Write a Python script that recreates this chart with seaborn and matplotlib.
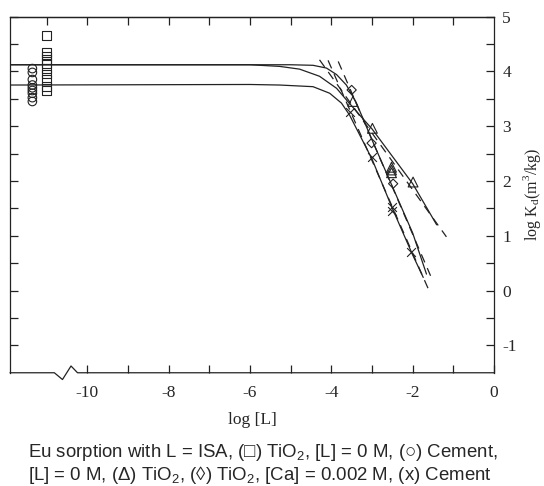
import numpy as np
import pandas as pd
import matplotlib
matplotlib.use("Agg")
import matplotlib.pyplot as plt
import matplotlib.transforms as mtransforms
import seaborn as sns

# ==========================
# data
# ==========================
# (□) TiO2, [L] = 0 M
sq_x = [-11.0] * 10
sq_y = [4.65, 4.35, 4.28, 4.22, 4.15, 4.05, 3.95, 3.85, 3.72, 3.65]
# (○) Cement, [L] = 0 M
ci_x = [-11.35] * 9
ci_y = [4.05, 3.98, 3.85, 3.75, 3.7, 3.65, 3.6, 3.52, 3.45]
# (Δ) TiO2
tri_x = [-3.47, -2.99, -2.52, -2.52, -2.52, -1.99]
tri_y = [3.45, 2.96, 2.25, 2.2, 2.15, 1.98]
# (◊) TiO2, [Ca] = 0.002 M
dia_x = [-3.5, -3.01, -2.48]
dia_y = [3.66, 2.69, 1.95]
# (x) Cement
cr_x = [-3.55, -3.01, -2.52, -2.5, -2.03]
cr_y = [3.25, 2.44, 1.52, 1.45, 0.7]

# model curves (solid)
fit_tri_x = [-11.9, -6.0, -5.27, -4.78, -4.29, -3.87, -3.63, -3.3, -3.0, -2.5, -2.0, -1.41]
fit_tri_y = [4.12, 4.12, 4.09, 4.04, 3.91, 3.69, 3.48, 3.2, 2.95, 2.45, 1.95, 1.2]
fit_dia_x = [-11.9, -5.0, -4.45, -4.12, -3.87, -3.63, -3.4, -3.0, -2.5, -2.0, -1.66]
fit_dia_y = [4.12, 4.12, 4.11, 4.06, 3.94, 3.75, 3.45, 2.75, 1.9, 1.05, 0.3]
fit_cr_x = [-11.9, -6.0, -5.27, -4.45, -4.04, -3.75, -3.55, -3.0, -2.5, -2.0, -1.74]
fit_cr_y = [3.75, 3.76, 3.75, 3.72, 3.6, 3.42, 3.2, 2.4, 1.5, 0.65, 0.24]

# straight dashed lines (end points)
dash_tri_x = [-4.29, -1.17]
dash_tri_y = [4.21, 0.98]
dash_dia_x = [-3.83, -1.56]
dash_dia_y = [4.18, 0.27]
dash_cr_x = [-4.08, -1.58]
dash_cr_y = [4.2, -0.03]

caption = ("Eu sorption with L = ISA, (\u25a1) TiO$_\\mathregular{2}$, [L] = 0 M, (\u25cb) Cement,\n"
           "[L] = 0 M, (\u0394) TiO$_\\mathregular{2}$, (\u25ca) TiO$_\\mathregular{2}$, "
           "[Ca] = 0.002 M, (x) Cement")

# ==========================
# style
# ==========================
sns.set_style("ticks")
plt.rcParams['font.family'] = ['Liberation Serif', 'DejaVu Serif']
plt.rcParams['axes.unicode_minus'] = False

ink = "#222222"
fig = plt.figure(figsize=(5.44, 4.86), dpi=100)
ax = fig.add_axes([0.0184, 0.233, 0.8897, 0.733])

line_kw = dict(color=ink, linewidth=0.9, estimator=None, sort=False, ax=ax, legend=False)
for xs, ys in [(fit_tri_x, fit_tri_y), (fit_dia_x, fit_dia_y), (fit_cr_x, fit_cr_y)]:
    sns.lineplot(x=xs, y=ys, **line_kw)
for xs, ys in [(dash_tri_x, dash_tri_y), (dash_dia_x, dash_dia_y), (dash_cr_x, dash_cr_y)]:
    l = sns.lineplot(x=xs, y=ys, **line_kw).lines[-1]
    l.set_dashes((7, 5))

mk = dict(facecolor="none", edgecolor=ink, linewidth=0.8, ax=ax, legend=False)
sns.scatterplot(x=sq_x, y=sq_y, marker="s", s=40, **mk)
sns.scatterplot(x=ci_x, y=ci_y, marker="o", s=38, **mk)
sns.scatterplot(x=tri_x, y=tri_y, marker="^", s=50, **mk)
sns.scatterplot(x=dia_x, y=dia_y, marker="D", s=22, **mk)
sns.scatterplot(x=cr_x, y=cr_y, marker="x", s=40, color=ink, linewidth=0.8, ax=ax, legend=False)

ax.set_xlim(-11.9, 0)
ax.set_ylim(-1.5, 5)

ax.set_xticks([-10, -8, -6, -4, -2, 0])
ax.set_xticks([-9, -7, -5, -3, -1], minor=True)
ax.set_yticks([-1, 0, 1, 2, 3, 4, 5])
ax.set_yticks([-0.5, 0.5, 1.5, 2.5, 3.5, 4.5], minor=True)
ax.tick_params(which="both", direction="in", length=6, width=0.9, color=ink,
               top=False, bottom=True, left=True, right=True,
               labelleft=False, labelright=True, labelsize=12.5)
ax.tick_params(axis="x", pad=9)
ax.tick_params(axis="y", pad=6)
for sp in ax.spines.values():
    sp.set_color(ink)
    sp.set_linewidth(0.9)

# top axis ticks (one more at -11, left of the break)
top = ax.secondary_xaxis("top")
top.set_xticks(list(range(-11, 0)))
top.tick_params(direction="in", length=6, width=0.9, color=ink, labeltop=False)
top.spines["top"].set_color(ink)
top.spines["top"].set_linewidth(0.9)

# broken bottom axis
ax.spines["bottom"].set_visible(False)
trans = mtransforms.blended_transform_factory(ax.transData, ax.transAxes)
ax.plot([-11.9, -10.81, -10.61, -10.4, -10.24, 0], [0, 0, -0.019, 0.019, 0, 0],
        color=ink, linewidth=0.9, transform=trans, clip_on=False)

ax.set_xlabel("log [L]", fontsize=12.5, labelpad=8)
ax.yaxis.set_label_position("right")
ax.set_ylabel("log K$_\\mathregular{d}$(m$^\\mathregular{3}$/kg)", fontsize=11.5, labelpad=3)

fig.text(0.052, 0.045, caption, fontsize=13.4, ha="left", va="center",
         family=['Liberation Sans', 'DejaVu Sans'], linespacing=1.08)

plt.savefig("out.png", dpi=100)
